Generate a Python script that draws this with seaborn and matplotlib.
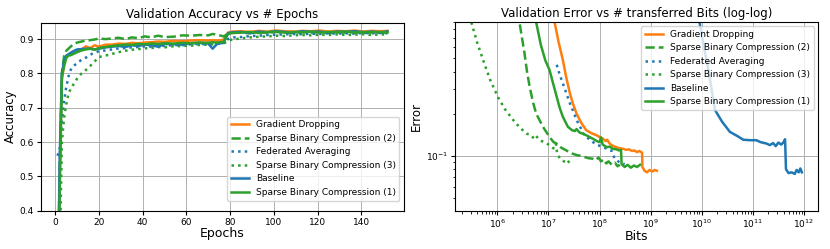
import numpy as np
import seaborn as sns
import matplotlib.pyplot as plt

# ---- left panel: validation accuracy per epoch ----
epochs = [1, 2, 3, 4, 5, 6, 7, 8, 10, 12, 14, 16, 18, 20, 23, 26, 29, 32, 35, 38,
          41, 44, 47, 50, 54, 58, 62, 66, 70, 72, 74, 77, 79, 81, 85, 89, 93, 97,
          101, 105, 109, 113, 117, 121, 125, 129, 133, 137, 141, 145, 149, 152]

acc_gd = [0.10, 0.50, 0.78, 0.83, 0.848, 0.853, 0.857, 0.860, 0.866, 0.870, 0.879, 0.874, 0.882, 0.878,
          0.884, 0.884, 0.887, 0.886, 0.889, 0.888, 0.890, 0.891, 0.893, 0.892, 0.895, 0.894, 0.896,
          0.897, 0.896, 0.897, 0.896, 0.898, 0.919, 0.922, 0.923, 0.921, 0.924, 0.922, 0.925, 0.923,
          0.922, 0.924, 0.923, 0.925, 0.922, 0.924, 0.923, 0.925, 0.922, 0.924, 0.923, 0.924]
acc_sbc2 = [0.10, 0.52, 0.80, 0.85, 0.866, 0.872, 0.878, 0.884, 0.890, 0.893, 0.896, 0.897, 0.899, 0.902,
            0.900, 0.902, 0.904, 0.900, 0.905, 0.903, 0.908, 0.905, 0.910, 0.906, 0.907, 0.911, 0.910,
            0.912, 0.911, 0.915, 0.913, 0.908, 0.915, 0.918, 0.919, 0.917, 0.920, 0.918, 0.921, 0.919,
            0.918, 0.920, 0.919, 0.921, 0.918, 0.920, 0.919, 0.921, 0.918, 0.920, 0.919, 0.920]
acc_fedavg = [0.56, 0.58, 0.66, 0.72, 0.76, 0.79, 0.81, 0.82, 0.83, 0.84, 0.846, 0.855, 0.860, 0.865,
              0.867, 0.870, 0.873, 0.874, 0.876, 0.877, 0.879, 0.878, 0.881, 0.880, 0.883, 0.882, 0.885,
              0.886, 0.885, 0.887, 0.886, 0.889, 0.900, 0.905, 0.906, 0.909, 0.910, 0.912, 0.913, 0.914,
              0.915, 0.914, 0.916, 0.915, 0.917, 0.916, 0.917, 0.916, 0.918, 0.917, 0.918, 0.917]
acc_sbc3 = [0.10, 0.25, 0.60, 0.67, 0.71, 0.74, 0.755, 0.765, 0.785, 0.80, 0.81, 0.822, 0.835, 0.848,
            0.852, 0.857, 0.862, 0.866, 0.869, 0.871, 0.873, 0.874, 0.877, 0.876, 0.879, 0.880, 0.881,
            0.883, 0.884, 0.885, 0.886, 0.887, 0.895, 0.899, 0.902, 0.905, 0.907, 0.908, 0.910, 0.909,
            0.911, 0.912, 0.911, 0.913, 0.912, 0.914, 0.912, 0.913, 0.914, 0.912, 0.914, 0.913]
acc_base = [0.10, 0.55, 0.80, 0.835, 0.852, 0.856, 0.860, 0.864, 0.870, 0.871, 0.872, 0.872, 0.870, 0.872,
            0.876, 0.878, 0.880, 0.877, 0.882, 0.880, 0.884, 0.882, 0.878, 0.886, 0.885, 0.884, 0.888,
            0.889, 0.887, 0.872, 0.886, 0.890, 0.917, 0.920, 0.921, 0.918, 0.922, 0.920, 0.923, 0.921,
            0.919, 0.923, 0.921, 0.922, 0.919, 0.922, 0.921, 0.923, 0.920, 0.922, 0.919, 0.923]
acc_sbc1 = [0.10, 0.45, 0.79, 0.82, 0.845, 0.852, 0.853, 0.856, 0.862, 0.867, 0.870, 0.872, 0.869, 0.874,
            0.877, 0.880, 0.882, 0.884, 0.883, 0.886, 0.885, 0.887, 0.886, 0.888, 0.887, 0.889, 0.888,
            0.890, 0.889, 0.891, 0.890, 0.892, 0.915, 0.918, 0.919, 0.921, 0.918, 0.920, 0.922, 0.919,
            0.921, 0.920, 0.922, 0.919, 0.921, 0.920, 0.922, 0.919, 0.921, 0.920, 0.921, 0.919]

# ---- right panel: validation error vs transferred bits ----
bits_gd = [1.32e7, 1.58e7, 1.91e7, 2.24e7, 2.63e7, 3.02e7, 3.55e7, 4.37e7, 5.5e7, 6.9e7, 8.7e7, 1.0e8,
           1.17e8, 1.32e8, 1.41e8, 1.58e8, 1.78e8, 2.0e8, 2.24e8, 2.5e8, 2.9e8, 3.3e8, 3.8e8, 4.3e8,
           4.8e8, 5.4e8, 6.0e8, 6.8e8, 6.9e8, 7.6e8, 8.5e8, 9.5e8, 1.07e9, 1.2e9, 1.32e9]
err_gd = [0.90, 0.65, 0.485, 0.36, 0.279, 0.235, 0.20, 0.172, 0.152, 0.145, 0.140, 0.136,
          0.132, 0.127, 0.130, 0.122, 0.118, 0.116, 0.114, 0.113, 0.112, 0.110, 0.111, 0.108,
          0.109, 0.106, 0.108, 0.105, 0.083, 0.078, 0.076, 0.079, 0.077, 0.079, 0.078]

bits_sbc2 = [2.75e6, 3.4e6, 3.8e6, 4.3e6, 5.0e6, 5.75e6, 7.8e6, 1.05e7, 1.26e7, 1.45e7, 1.78e7, 2.24e7,
             2.8e7, 3.55e7, 4.1e7, 5.0e7, 6.0e7, 7.4e7, 8.5e7, 9.5e7, 1.07e8, 1.2e8, 1.35e8, 1.5e8,
             1.74e8, 2.0e8, 2.24e8, 2.5e8]
err_sbc2 = [0.87, 0.54, 0.40, 0.31, 0.24, 0.20, 0.161, 0.136, 0.125, 0.122, 0.114, 0.109,
            0.104, 0.101, 0.100, 0.098, 0.096, 0.095, 0.093, 0.097, 0.091, 0.094, 0.088, 0.091,
            0.086, 0.089, 0.084, 0.086]

bits_fedavg = [1.45e7, 1.66e7, 1.91e7, 2.24e7, 2.63e7, 3.1e7, 3.55e7, 4.2e7, 4.8e7, 6.0e7, 7.4e7,
               9.3e7, 1.17e8, 1.41e8, 1.7e8, 1.86e8, 2.0e8, 2.24e8, 2.5e8, 2.8e8, 3.1e8]
err_fedavg = [0.447, 0.38, 0.33, 0.28, 0.237, 0.205, 0.18, 0.16, 0.144, 0.133, 0.125,
              0.119, 0.115, 0.112, 0.109, 0.100, 0.095, 0.092, 0.089, 0.088, 0.087]

bits_sbc3 = [3.1e5, 4.0e5, 5.25e5, 7.2e5, 1.02e6, 1.41e6, 2.04e6, 2.8e6, 3.7e6, 4.6e6, 5.25e6,
             5.75e6, 6.8e6, 8.5e6, 1.05e7, 1.2e7, 1.32e7, 1.41e7, 1.48e7, 1.66e7, 1.91e7, 2.24e7,
             2.4e7, 2.63e7]
err_sbc3 = [0.90, 0.65, 0.485, 0.35, 0.264, 0.215, 0.180, 0.158, 0.144, 0.140, 0.132,
            0.138, 0.129, 0.124, 0.119, 0.114, 0.112, 0.121, 0.103, 0.096, 0.092, 0.089,
            0.092, 0.0875]

bits_base = [9.1e9, 1.1e10, 1.32e10, 1.58e10, 1.82e10, 2.5e10, 3.55e10, 5.0e10, 6.5e10, 8.9e10,
             1.17e11, 1.41e11, 1.86e11, 2.14e11, 2.5e11, 2.8e11, 3.16e11, 3.6e11, 4.0e11, 4.27e11,
             4.45e11, 5.0e11, 5.75e11, 6.6e11, 7.2e11, 7.9e11, 8.5e11, 9.1e11]
err_base = [0.89, 0.60, 0.43, 0.29, 0.212, 0.175, 0.148, 0.138, 0.130, 0.129,
            0.129, 0.125, 0.122, 0.119, 0.123, 0.117, 0.124, 0.120, 0.125, 0.131,
            0.080, 0.075, 0.076, 0.074, 0.079, 0.076, 0.081, 0.076]

bits_sbc1 = [5.75e6, 7.1e6, 8.7e6, 1.05e7, 1.23e7, 1.45e7, 1.66e7, 1.91e7, 2.4e7, 2.9e7, 3.3e7,
             3.55e7, 4.0e7, 5.5e7, 7.4e7, 8.9e7, 1.0e8, 1.07e8, 1.15e8, 1.38e8, 1.58e8, 1.82e8,
             2.14e8, 2.4e8, 2.63e8, 2.7e8, 3.1e8, 3.55e8, 4.1e8, 4.7e8, 5.4e8, 6.2e8]
err_sbc1 = [0.90, 0.62, 0.48, 0.41, 0.33, 0.264, 0.22, 0.19, 0.161, 0.152, 0.150,
            0.155, 0.147, 0.140, 0.132, 0.127, 0.125, 0.135, 0.120, 0.115, 0.116, 0.112,
            0.111, 0.109, 0.110, 0.087, 0.083, 0.086, 0.082, 0.085, 0.083, 0.086]

blue, orange, green = '#1f77b4', '#ff7f0e', '#2ca02c'

series = [
    ('Gradient Dropping', orange, '-', acc_gd, bits_gd, err_gd),
    ('Sparse Binary Compression (2)', green, '--', acc_sbc2, bits_sbc2, err_sbc2),
    ('Federated Averaging', blue, ':', acc_fedavg, bits_fedavg, err_fedavg),
    ('Sparse Binary Compression (3)', green, ':', acc_sbc3, bits_sbc3, err_sbc3),
    ('Baseline', blue, '-', acc_base, bits_base, err_base),
    ('Sparse Binary Compression (1)', green, '-', acc_sbc1, bits_sbc1, err_sbc1),
]

plt.rcParams['font.family'] = 'DejaVu Sans'
plt.rcParams['axes.linewidth'] = 0.8

fig = plt.figure(figsize=(8.3, 2.49), dpi=100)
ax1 = fig.add_axes([0.0494, 0.154, 0.4373, 0.755])
ax2 = fig.add_axes([0.548, 0.154, 0.438, 0.759])

for name, col, ls, acc, bits, err in series:
    sns.lineplot(x=epochs, y=acc, ax=ax1, color=col, linestyle=ls, linewidth=1.8, label=name)
    sns.lineplot(x=bits, y=err, ax=ax2, color=col, linestyle=ls, linewidth=1.8, label=name)

# left
ax1.set_ylim(0.4, 0.948)
ax1.set_title('Validation Accuracy vs # Epochs', fontsize=8.5, pad=3)
ax1.set_xlabel('Epochs', fontsize=9, labelpad=0)
ax1.set_ylabel('Accuracy', fontsize=8.5, labelpad=2)
ax1.tick_params(labelsize=6.5, length=3, pad=2)
ax1.grid(True, color='#b0b0b0', linewidth=0.7)
ax1.legend(loc='lower right', fontsize=6.5, bbox_to_anchor=(1.0, 0.03))

# right
ax2.set_xscale('log')
ax2.set_yscale('log')
ax2.set_ylim(0.0404, 0.91)
ax2.set_title('Validation Error vs # transferred Bits (log-log)', fontsize=8.5, pad=3)
ax2.set_xlabel('Bits', fontsize=9, labelpad=0)
ax2.set_ylabel('Error', fontsize=8.5, labelpad=2)
ax2.tick_params(labelsize=6.5, length=3, pad=2)
ax2.tick_params(which='minor', length=1.8)
ax2.yaxis.set_minor_formatter(plt.NullFormatter())
ax2.grid(True, which='major', color='#b0b0b0', linewidth=0.7)
ax2.legend(loc='upper right', fontsize=6.5)

fig.savefig('out.png', dpi=100)
